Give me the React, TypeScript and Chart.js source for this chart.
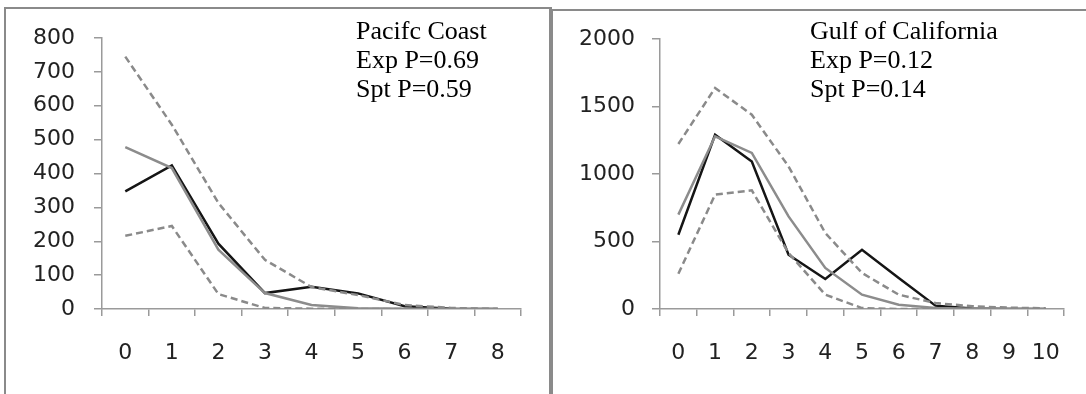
import React, { useEffect, useRef } from "react";
import { Chart, registerables } from "chart.js";

Chart.register(...registerables);

// ---- Pacific Coast panel data ----
const pacificCategories = ["0", "1", "2", "3", "4", "5", "6", "7", "8"];
const pacificObserved = [347, 424, 193, 47, 66, 46, 8, 1, 0];
const pacificExpected = [478, 416, 175, 47, 12, 2, 1, 0, 0];
const pacificUpper = [745, 544, 313, 145, 65, 41, 12, 3, 0];
const pacificLower = [216, 245, 44, 3, 1, 0, 0, 0, 0];
const pacificYTicks = [0, 100, 200, 300, 400, 500, 600, 700, 800];
const pacificNotes = ["Pacifc Coast", "Exp P=0.69", "Spt P=0.59"];

// ---- Gulf of California panel data ----
const gulfCategories = ["0", "1", "2", "3", "4", "5", "6", "7", "8", "9", "10"];
const gulfObserved = [550, 1291, 1093, 402, 222, 439, 230, 25, 3, 0, 0];
const gulfExpected = [699, 1279, 1156, 686, 304, 106, 32, 8, 2, 1, 0];
const gulfUpper = [1222, 1637, 1439, 1056, 563, 267, 106, 44, 20, 10, 5];
const gulfLower = [261, 847, 879, 415, 106, 7, 0, 0, 0, 0, 0];
const gulfYTicks = [0, 500, 1000, 1500, 2000];
const gulfNotes = ["Gulf of California", "Exp P=0.12", "Spt P=0.14"];

const AXIS = "#9a9a9a";
const TICK_FONT = { family: "'DejaVu Sans', sans-serif", size: 22 };

type PanelProps = {
  categories: string[];
  observed: number[];
  expected: number[];
  upper: number[];
  lower: number[];
  yTicks: number[];
  yWidth: number;
  padRight: number;
  padTop: number;
  yPad: number;
};

function Panel(p: PanelProps) {
  const ref = useRef<HTMLCanvasElement | null>(null);
  useEffect(() => {
    if (!ref.current) return;
    const dashed = {
      borderColor: "#8a8a8a",
      borderWidth: 2.5,
      borderDash: [7, 4],
      pointRadius: 0,
      tension: 0,
      fill: false,
    };
    const chart = new Chart(ref.current, {
      type: "line",
      data: {
        labels: p.categories,
        datasets: [
          { label: "upper", data: p.upper, ...dashed },
          { label: "lower", data: p.lower, ...dashed },
          {
            label: "expected",
            data: p.expected,
            borderColor: "#8c8c8c",
            borderWidth: 2.5,
            pointRadius: 0,
            tension: 0,
            fill: false,
          },
          {
            label: "observed",
            data: p.observed,
            borderColor: "#151515",
            borderWidth: 2.5,
            pointRadius: 0,
            tension: 0,
            fill: false,
          },
        ],
      },
      options: {
        animation: false,
        responsive: false,
        maintainAspectRatio: false,
        layout: { padding: { left: 0, right: p.padRight, top: p.padTop, bottom: 0 } },
        plugins: { legend: { display: false }, tooltip: { enabled: false } },
        scales: {
          x: {
            offset: true,
            grid: {
              offset: true,
              drawOnChartArea: false,
              drawTicks: true,
              tickLength: 7,
              color: AXIS,
              lineWidth: 1.5,
            },
            border: { display: true, color: AXIS, width: 1.5 },
            ticks: { font: TICK_FONT, color: "#222", padding: 24, maxRotation: 0 },
            afterFit: (s: any) => {
              s.height = 85;
            },
          },
          y: {
            min: p.yTicks[0],
            max: p.yTicks[p.yTicks.length - 1],
            grid: {
              drawOnChartArea: false,
              drawTicks: true,
              tickLength: 8,
              color: AXIS,
              lineWidth: 1.5,
            },
            border: { display: true, color: AXIS, width: 1.5 },
            ticks: {
              font: TICK_FONT,
              color: "#222",
              padding: p.yPad,
              callback: (v: any) => String(v),
            },
            afterBuildTicks: (s: any) => {
              s.ticks = p.yTicks.map((v) => ({ value: v }));
            },
            afterFit: (s: any) => {
              s.width = p.yWidth;
            },
          },
        },
      },
    });
    return () => chart.destroy();
  }, []);
  return (
    <canvas
      ref={ref}
      width={1086}
      height={394}
      style={{ position: "absolute", left: 0, top: 0, width: 1086, height: 394 }}
    />
  );
}

function Notes({ lines, left }: { lines: string[]; left: number }) {
  return (
    <div
      style={{
        position: "absolute",
        left,
        top: 16,
        fontFamily: "'Liberation Serif', 'Times New Roman', serif",
        fontSize: 26,
        lineHeight: "29px",
        color: "#000",
        whiteSpace: "nowrap",
      }}
    >
      {lines.map((l) => (
        <div key={l}>{l}</div>
      ))}
    </div>
  );
}

export default function App() {
  return (
    <div
      style={{
        position: "absolute",
        left: 0,
        top: 0,
        width: 1086,
        height: 394,
        overflow: "hidden",
        background: "#fff",
      }}
    >
      <div
        style={{
          position: "absolute",
          left: 4,
          top: 7,
          width: 543,
          height: 420,
          border: "2px solid #8a8a8a",
          borderRightWidth: 3,
        }}
      />
      <div
        style={{
          position: "absolute",
          left: 551,
          top: 9,
          width: 600,
          height: 420,
          border: "2px solid #8a8a8a",
        }}
      />
      <Panel
        categories={pacificCategories}
        observed={pacificObserved}
        expected={pacificExpected}
        upper={pacificUpper}
        lower={pacificLower}
        yTicks={pacificYTicks}
        yWidth={102}
        padRight={565}
        padTop={38}
        yPad={19}
      />
      <Panel
        categories={gulfCategories}
        observed={gulfObserved}
        expected={gulfExpected}
        upper={gulfUpper}
        lower={gulfLower}
        yTicks={gulfYTicks}
        yWidth={660}
        padRight={22}
        padTop={39}
        yPad={17}
      />
      <Notes lines={pacificNotes} left={356} />
      <Notes lines={gulfNotes} left={810} />
    </div>
  );
}
